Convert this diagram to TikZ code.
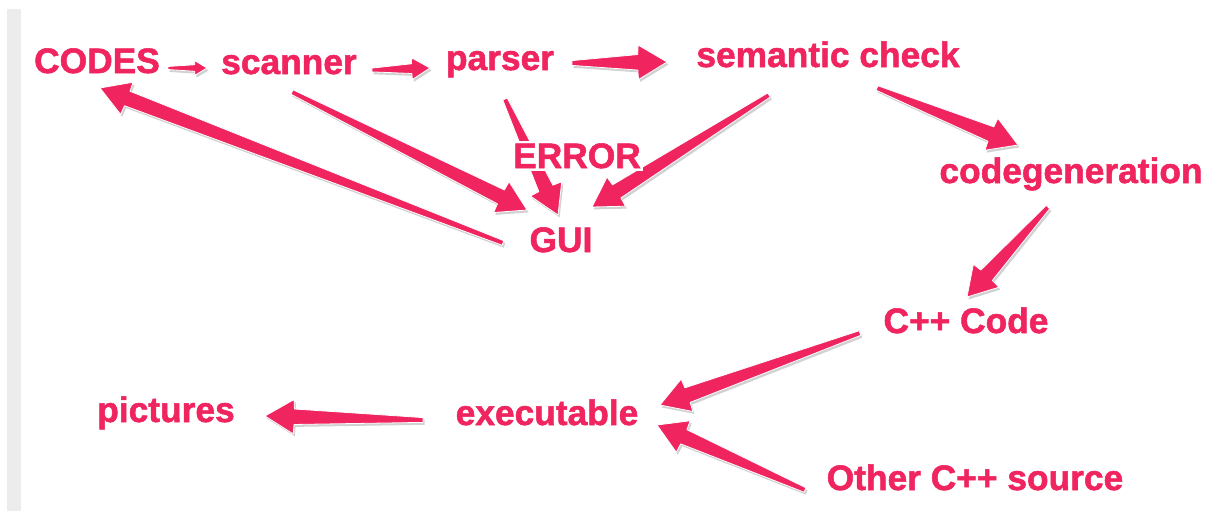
\documentclass[tikz,border=0pt]{standalone}
\usepackage{fontspec}
\setmainfont{Liberation Sans}
\newfontfamily\skitchfont{Liberation Sans Bold}[FakeBold=1.5]
\usetikzlibrary{positioning,calc}
\definecolor{skitch-pink}{HTML}{F0245F}
\definecolor{side-bar}{HTML}{ECECEC}

% tapered skitch arrow from #1 to #2
\newcommand{\skarrow}[2]{%
  \path #1; \pgfgetlastxy{\skax}{\skay}%
  \path #2; \pgfgetlastxy{\skbx}{\skby}%
  \pgfmathsetmacro{\skang}{atan2(\skby-(\skay),\skbx-(\skax))}%
  \pgfmathsetmacro{\sklen}{veclen(\skbx-(\skax),\skby-(\skay))}%
  \pgfmathsetmacro{\skhd}{min(0.31*\sklen,21.5)}%
  \pgfmathsetmacro{\sktl}{min(0.06*\skhd+0.6,1.8)}%
  \fill[black, opacity=0.18, shift={(1.2pt,-1.8pt)}, shift={(\skbx,\skby)}, rotate=\skang, x=1pt, y=1pt]
    (0,0) -- (-\skhd,0.6*\skhd) -- (-1.02*\skhd,0.27*\skhd) -- (-\sklen,\sktl)
    -- (-\sklen,-\sktl) -- (-1.02*\skhd,-0.27*\skhd) -- (-\skhd,-0.6*\skhd) -- cycle;
  \filldraw[fill=skitch-pink, draw=white, line width=0.6pt, line join=round, shift={(\skbx,\skby)}, rotate=\skang, x=1pt, y=1pt]
    (0,0) -- (-\skhd,0.6*\skhd) -- (-1.02*\skhd,0.27*\skhd) -- (-\sklen,\sktl)
    -- (-\sklen,-\sktl) -- (-1.02*\skhd,-0.27*\skhd) -- (-\skhd,-0.6*\skhd) -- cycle;
}

\begin{document}
\begin{tikzpicture}[x=0.75pt, y=-0.75pt,
    lbl/.style={text=skitch-pink, font=\skitchfont\fontsize{26.5}{30}\selectfont, inner sep=0pt, anchor=base}]
    \useasboundingbox[fill=white] (0,0) rectangle (1221,511);
    \fill[side-bar] (7,9) rectangle (21,511);

    % compiler stages
    \node[lbl] (codes)    at (97,73)   {CODES};
    \node[lbl] (scanner)  at (289,74)  {scanner};
    \node[lbl] (parser)   at (500,70)  {parser};
    \node[lbl] (semantic) at (828,67)  {semantic check};
    \node[lbl] (codegen)  at (1071,183) {codegeneration};
    \node[lbl] (cpp)      at (966,333) {C++ Code};
    \node[lbl] (exe)      at (547,425) {executable};
    \node[lbl] (pics)     at (166,422) {pictures};
    \node[lbl] (other)    at (975,490) {Other C++ source};
    \node[lbl] (gui)      at (561,252) {GUI};

    % main flow
    \skarrow{([shift={(71,-5)}]codes.base)}{([shift={(-82,-6)}]scanner.base)}
    \skarrow{([shift={(83,-4)}]scanner.base)}{([shift={(-70,-2)}]parser.base)}
    \skarrow{([shift={(72,-7)}]parser.base)}{([shift={(-161,-5)}]semantic.base)}
    \skarrow{([shift={(49,21)}]semantic.base)}{([shift={(-53,-38)}]codegen.base)}
    \skarrow{([shift={(-23,24)}]codegen.base)}{([shift={(1,-36)}]cpp.base)}
    \skarrow{([shift={(-106,0)}]cpp.base)}{([shift={(113,-20)}]exe.base)}
    \skarrow{([shift={(-170,0)}]other.base)}{([shift={(110,0)}]exe.base)}
    \skarrow{([shift={(-124,-5)}]exe.base)}{([shift={(99,-6)}]pics.base)}

    % errors back to the gui
    \skarrow{([shift={(3,18)}]scanner.base)}{([shift={(-34,-42)}]gui.base)}
    \skarrow{([shift={(5,29)}]parser.base)}{([shift={(-3,-37)}]gui.base)}
    \skarrow{([shift={(-59,28)}]semantic.base)}{([shift={(31,-45)}]gui.base)}
    \skarrow{([shift={(-58,-9)}]gui.base)}{([shift={(3,15)}]codes.base)}

    \node[lbl, fill=white, inner sep=2pt] (error) at (577,168) {ERROR};
\end{tikzpicture}
\end{document}
